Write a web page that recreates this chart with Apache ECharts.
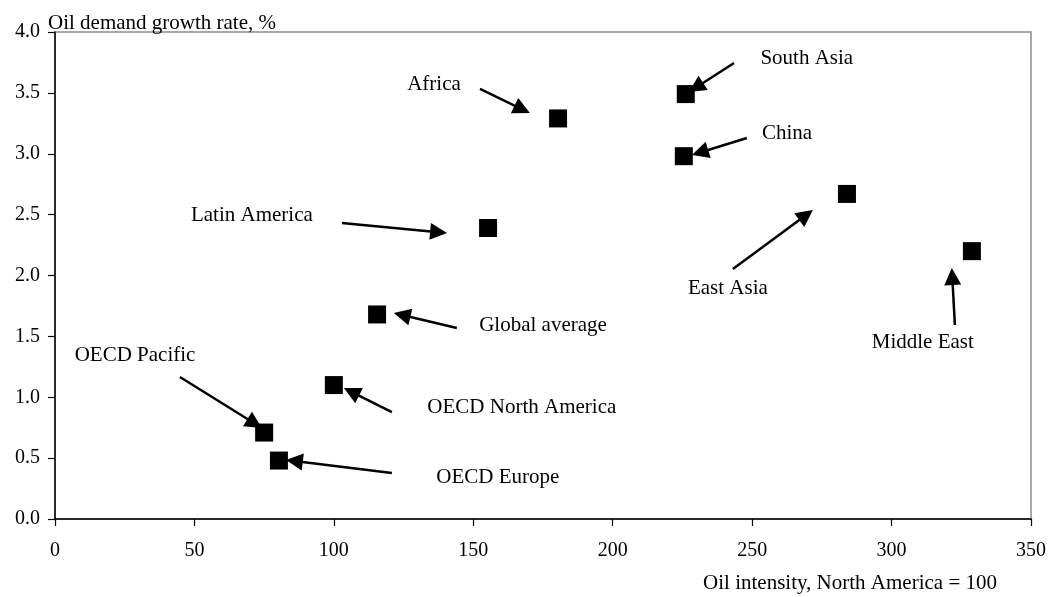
<!DOCTYPE html>
<html>
<head>
<meta charset="utf-8">
<script src="https://cdn.jsdelivr.net/npm/echarts@6/dist/echarts.min.js"></script>
<style>
  html, body { margin: 0; padding: 0; background: #fff; }
  #chart { width: 1050px; height: 597px; }
</style>
</head>
<body>
<div id="chart"></div>
<script>
// Regions: oil intensity (North America = 100) vs oil demand growth rate (%)
const regions = ['OECD Europe', 'OECD Pacific', 'OECD North America', 'Global average',
  'Latin America', 'Africa', 'South Asia', 'China', 'East Asia', 'Middle East'];
const oilIntensity = [80.3, 75.0, 100.0, 115.5, 155.3, 180.4, 226.2, 225.5, 284.0, 328.8];
const demandGrowth = [0.48, 0.71, 1.10, 1.68, 2.39, 3.29, 3.49, 2.98, 2.67, 2.20];

// Axis ticks
const xTicks = [0, 50, 100, 150, 200, 250, 300, 350];
const yTicks = [0.0, 0.5, 1.0, 1.5, 2.0, 2.5, 3.0, 3.5, 4.0];

// Callout text anchors (data units)
const labelX = [158.8, 28.7, 167.4, 175.0, 70.6, 135.9, 269.6, 262.5, 241.3, 311.2];
const labelY = [0.337, 1.339, 0.912, 1.593, 2.497, 3.573, 3.786, 3.170, 1.897, 1.446];

// Callout arrows: tail and tip (data units)
const arrowFromX = [120.8, 44.8, 120.8, 144.1, 102.9, 152.4, 243.5, 248.1, 243.1, 322.7];
const arrowFromY = [0.378, 1.166, 0.878, 1.569, 2.431, 3.532, 3.745, 3.129, 2.053, 1.593];
const arrowToX   = [82.8, 74.2, 103.6, 121.5, 140.6, 170.3, 227.3, 228.4, 271.8, 321.6];
const arrowToY   = [0.485, 0.747, 1.076, 1.692, 2.349, 3.335, 3.507, 2.990, 2.538, 2.062];

const FONT = 'Liberation Serif, Times New Roman, serif';
const HEAD = 17; // arrowhead size in px

const points = regions.map((r, i) => ({ name: r, value: [oilIntensity[i], demandGrowth[i]] }));
const labelPoints = regions.map((r, i) => ({ name: r, value: [labelX[i], labelY[i]] }));

const chart = echarts.init(document.getElementById('chart'), null, { renderer: 'canvas' });

function buildOption(arrowData) {
  return {
    animation: false,
    backgroundColor: '#fff',
    textStyle: { fontFamily: FONT, color: '#000' },
    grid: {
      left: 55, right: 19, top: 32, bottom: 78,
      show: true, borderColor: '#8c8c8c', borderWidth: 1.5, backgroundColor: 'transparent'
    },
    xAxis: {
      type: 'value',
      min: xTicks[0], max: xTicks[xTicks.length - 1], interval: xTicks[1] - xTicks[0],
      splitLine: { show: false },
      axisLine: { show: true, onZero: false, lineStyle: { color: '#000', width: 1.5 } },
      axisTick: { show: true, length: 7, lineStyle: { color: '#000', width: 1.2 } },
      axisLabel: { margin: 22, fontFamily: FONT, fontSize: 20, color: '#000' }
    },
    yAxis: {
      type: 'value',
      min: yTicks[0], max: yTicks[yTicks.length - 1], interval: yTicks[1] - yTicks[0],
      splitLine: { show: false },
      axisLine: { show: true, onZero: false, lineStyle: { color: '#000', width: 1.5 } },
      axisTick: { show: true, length: 7, lineStyle: { color: '#000', width: 1.2 } },
      axisLabel: { margin: 15, fontFamily: FONT, fontSize: 20, color: '#000',
        formatter: v => v.toFixed(1) }
    },
    graphic: [
      { type: 'text', left: 48, top: 13, z: 10,
        style: { text: 'Oil demand growth rate, %', font: '21px ' + FONT, fill: '#000' } },
      { type: 'text', right: 53, top: 573, z: 10,
        style: { text: 'Oil intensity, North America = 100', font: '21px ' + FONT, fill: '#000' } }
    ],
    series: [
      {
        name: 'Regions',
        type: 'scatter',
        symbol: 'rect',
        symbolSize: 18,
        itemStyle: { color: '#000', opacity: 1 },
        data: points,
        z: 5,
        markLine: {
          silent: true,
          symbol: ['none', 'triangle'],
          symbolSize: HEAD,
          itemStyle: { color: '#000', opacity: 1 },
          lineStyle: { color: '#000', width: 2.5, type: 'solid', opacity: 1 },
          label: { show: false },
          data: arrowData
        }
      },
      {
        name: 'Callouts',
        type: 'scatter',
        symbolSize: 1,
        itemStyle: { color: 'rgba(0,0,0,0)', opacity: 1 },
        silent: true,
        label: {
          show: true, position: 'inside',
          formatter: p => p.name,
          fontFamily: FONT, fontSize: 21, color: '#000'
        },
        data: labelPoints
      }
    ]
  };
}

// First pass sets up the scales; the arrow end is then moved back by half
// the head length so the triangle's tip lands on the given point.
chart.setOption(buildOption([]));
const arrows = regions.map((r, i) => {
  const a = chart.convertToPixel({ gridIndex: 0 }, [arrowFromX[i], arrowFromY[i]]);
  const b = chart.convertToPixel({ gridIndex: 0 }, [arrowToX[i], arrowToY[i]]);
  const dx = b[0] - a[0], dy = b[1] - a[1];
  const len = Math.hypot(dx, dy);
  const c = [b[0] - dx / len * HEAD / 2, b[1] - dy / len * HEAD / 2];
  const end = chart.convertFromPixel({ gridIndex: 0 }, c);
  return [{ coord: [arrowFromX[i], arrowFromY[i]] }, { coord: end }];
});
chart.setOption(buildOption(arrows));
</script>
</body>
</html>
